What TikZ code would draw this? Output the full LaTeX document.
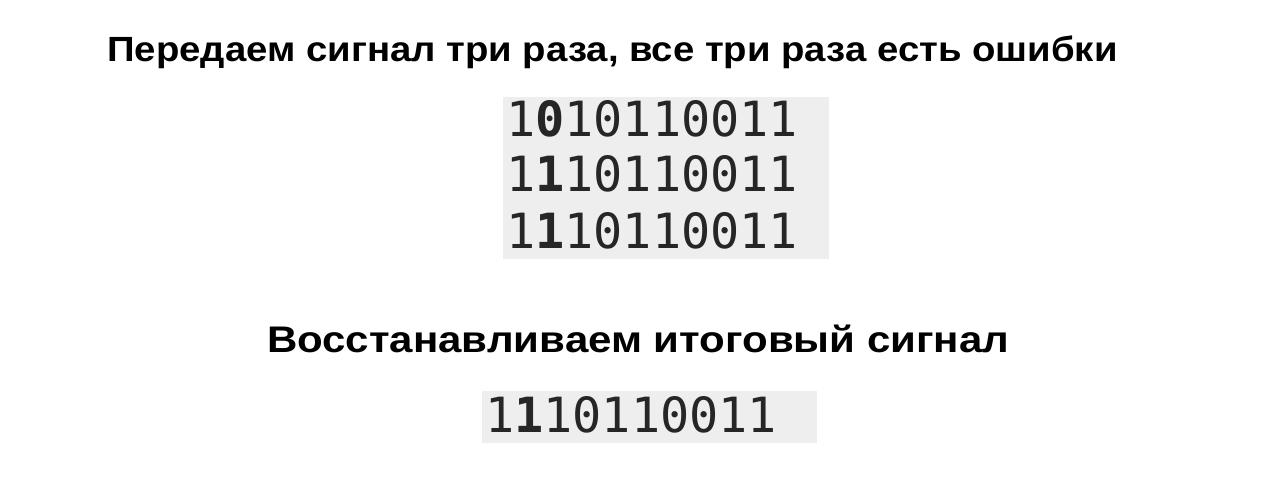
\documentclass[tikz,border=0pt]{standalone}
\usepackage{fontspec}
\usepackage{graphicx}
\setmainfont{Liberation Sans}
\newfontfamily\monof{DejaVu Sans Mono}
\definecolor{boxgray}{HTML}{EEEEEE}
\definecolor{ink}{HTML}{262626}
\tikzset{
  heading/.style={anchor=base west, inner sep=0pt, text=black},
  bits/.style={anchor=base west, inner sep=0pt, font=\fontsize{48.5}{55}\selectfont\monof, text=ink},
  codebox/.style={fill=boxgray, draw=none}
}
\begin{document}
\begin{tikzpicture}[x=1pt,y=-1pt]
\useasboundingbox[fill=white] (0,0) rectangle (1272,489);
\node[heading, font=\fontsize{35}{40}\selectfont\bfseries] (t1) at (107,62) {\scalebox{1.095}[1]{Передаем сигнал три раза, все три раза есть ошибки}};
\fill[codebox] (503,97) rectangle (829,259);
\node[bits] (r1) at (506,137) {1\textbf{0}10110011};
\node[bits] (r2) at (506,192) {1\textbf{1}10110011};
\node[bits] (r3) at (506,248) {1\textbf{1}10110011};
\node[heading, font=\fontsize{37}{42}\selectfont\bfseries] (t2) at (267,352) {\scalebox{1.135}[1]{Восстанавливаем итоговый сигнал}};
\fill[codebox] (482,391) rectangle (817,443);
\node[bits] (res) at (485,432) {1\textbf{1}10110011};
\end{tikzpicture}
\end{document}
